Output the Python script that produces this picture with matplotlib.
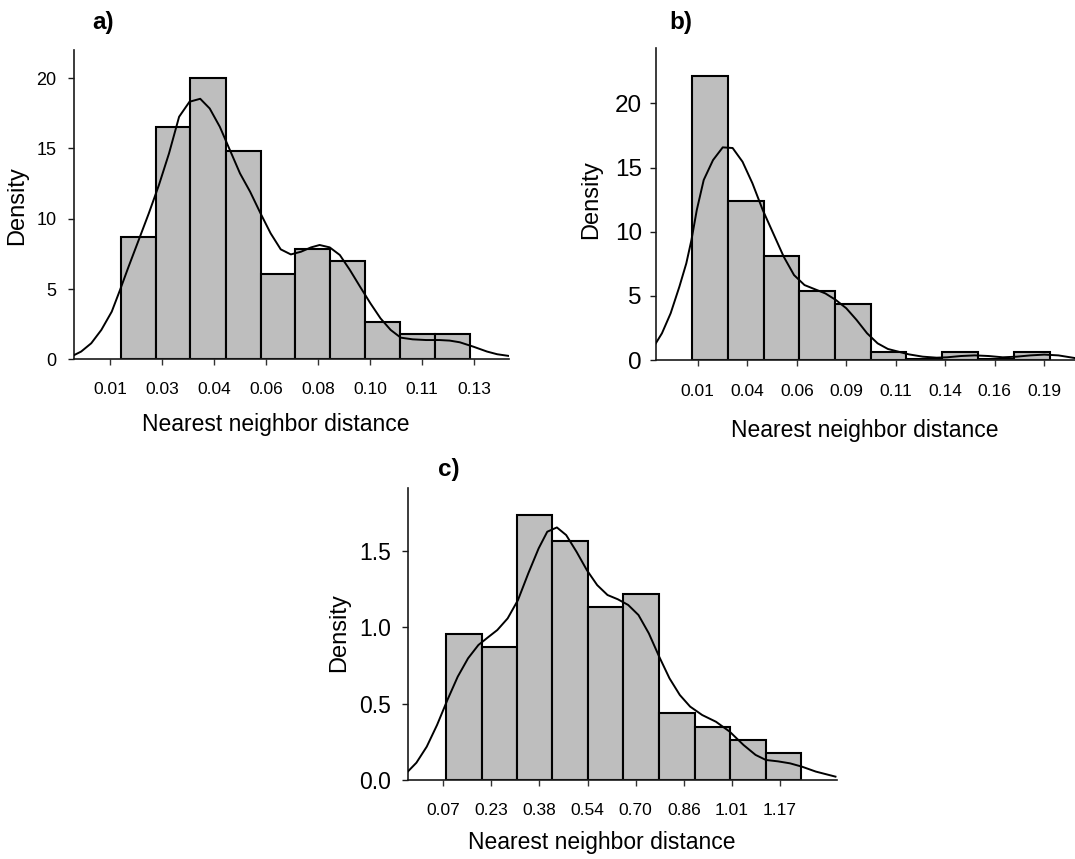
import matplotlib
matplotlib.use('Agg')
import matplotlib.pyplot as plt

plt.rcParams['font.family'] = ['Liberation Sans', 'DejaVu Sans']

# ── data ──────────────────────────────────────────────────────────────────────

# panel a
a_edges = [0.0140, 0.0254, 0.0368, 0.0483, 0.0597, 0.0710, 0.0824, 0.0939, 0.1053, 0.1168, 0.1281]
a_heights = [8.70, 16.52, 20.0, 14.79, 6.09, 7.87, 6.99, 2.65, 1.80, 1.80]
a_ticks = [0.0105, 0.0275, 0.0445, 0.0615, 0.0785, 0.0955, 0.1125, 0.1295]
a_ticklabels = ['0.01', '0.03', '0.04', '0.06', '0.08', '0.10', '0.11', '0.13']
a_yticks = [0, 5, 10, 15, 20]
a_curve_x = [-0.0011, 0.0011, 0.0044, 0.0077, 0.0111, 0.0138, 0.0166, 0.0199, 0.0232, 0.0265,
             0.0298, 0.0331, 0.0365, 0.0400, 0.0431, 0.0464, 0.0497, 0.0530, 0.0563, 0.0597,
             0.0630, 0.0663, 0.0696, 0.0729, 0.0762, 0.0790, 0.0823, 0.0856, 0.0889, 0.0922,
             0.0956, 0.0989, 0.1022, 0.1055, 0.1094, 0.1138, 0.1182, 0.1215, 0.1248, 0.1292,
             0.1337, 0.1370, 0.1408]
a_curve_y = [0.31, 0.55, 1.14, 2.09, 3.39, 4.93, 6.59, 8.48, 10.38, 12.39,
             14.64, 17.25, 18.32, 18.53, 17.84, 16.54, 14.88, 13.22, 11.92, 10.38,
             8.96, 7.82, 7.46, 7.65, 7.96, 8.13, 7.96, 7.42, 6.35, 5.17,
             3.98, 2.91, 2.09, 1.54, 1.42, 1.37, 1.37, 1.33, 1.21, 0.90,
             0.55, 0.36, 0.24]

# panel b
b_edges = [0.0090, 0.0271, 0.0452, 0.0633, 0.0813, 0.0993, 0.1172, 0.1352, 0.1537, 0.1716, 0.1897]
b_heights = [22.1, 12.42, 8.10, 5.40, 4.34, 0.60, 0.08, 0.60, 0.08, 0.60]
b_ticks = [0.012, 0.037, 0.062, 0.087, 0.112, 0.137, 0.162, 0.187]
b_ticklabels = ['0.01', '0.04', '0.06', '0.09', '0.11', '0.14', '0.16', '0.19']
b_yticks = [0, 5, 10, 15, 20]
b_curve_x = [-0.0092, -0.0061, -0.0017, 0.0027, 0.0062, 0.0088, 0.0115, 0.0150, 0.0197, 0.0246,
             0.0296, 0.0346, 0.0396, 0.0448, 0.0501, 0.0554, 0.0606, 0.0659, 0.0712, 0.0764,
             0.0817, 0.0870, 0.0922, 0.0975, 0.1028, 0.1080, 0.1133, 0.1186, 0.1256, 0.1326,
             0.1379, 0.1449, 0.1519, 0.1589, 0.1660, 0.1730, 0.1800, 0.1870, 0.1941, 0.2025]
b_curve_y = [1.30, 2.08, 3.64, 5.71, 7.53, 9.35, 11.69, 14.03, 15.58, 16.57,
             16.52, 15.45, 13.77, 11.69, 9.87, 8.05, 6.62, 5.84, 5.51, 5.19,
             4.68, 4.03, 3.12, 2.08, 1.30, 0.86, 0.65, 0.44, 0.26, 0.18,
             0.21, 0.31, 0.36, 0.31, 0.21, 0.26, 0.36, 0.42, 0.36, 0.15]

# panel c
c_edges = [0.0781, 0.1943, 0.3093, 0.4254, 0.5426, 0.6576, 0.7749, 0.8910, 1.0071, 1.1233, 1.2394]
c_heights = [0.957, 0.868, 1.733, 1.565, 1.129, 1.216, 0.436, 0.349, 0.262, 0.177]
c_ticks = [0.068, 0.2255, 0.383, 0.5405, 0.698, 0.8555, 1.013, 1.1705]
c_ticklabels = ['0.07', '0.23', '0.38', '0.54', '0.70', '0.86', '1.01', '1.17']
c_yticks = [0.0, 0.5, 1.0, 1.5]
c_curve_x = [-0.0481, -0.0199, 0.0139, 0.0477, 0.0815, 0.1154, 0.1492, 0.1830, 0.2168, 0.2450,
             0.2788, 0.3126, 0.3465, 0.3803, 0.4085, 0.4400, 0.4705, 0.5043, 0.5381, 0.5719,
             0.6058, 0.6396, 0.6734, 0.7072, 0.7411, 0.7749, 0.8087, 0.8425, 0.8763, 0.9158,
             0.9609, 1.0060, 1.0511, 1.0906, 1.1244, 1.1638, 1.2033, 1.2427, 1.2878, 1.3521]
c_curve_y = [0.055, 0.113, 0.218, 0.360, 0.523, 0.676, 0.796, 0.883, 0.937, 0.981,
             1.057, 1.177, 1.352, 1.515, 1.624, 1.652, 1.602, 1.493, 1.373, 1.275,
             1.210, 1.182, 1.145, 1.079, 0.959, 0.807, 0.665, 0.556, 0.480, 0.425,
             0.381, 0.316, 0.229, 0.164, 0.131, 0.122, 0.109, 0.087, 0.055, 0.022]

# ── layout (pixel boxes on a 1075 x 859 canvas) ───────────────────────────────

W, H = 1075, 859

PANELS = [
    dict(edges=a_edges, heights=a_heights, ticks=a_ticks, labels=a_ticklabels,
         yticks=a_yticks, cx=a_curve_x, cy=a_curve_y,
         xlim=(-0.0011, 0.1408), ylim=(0, 22.0),
         box=(74.4, 50, 508.8, 359.3), ysize=13, ypad=9, xpad=11.5,
         yfmt='{:g}', tag='a)', tag_xy=(92, 22),
         xlab_xy=(276, 425), ylab_xy=(17, 206)),
    dict(edges=b_edges, heights=b_heights, ticks=b_ticks, labels=b_ticklabels,
         yticks=b_yticks, cx=b_curve_x, cy=b_curve_y,
         xlim=(-0.0092, 0.2025), ylim=(0, 24.29),
         box=(655.8, 48.3, 1075, 360), ysize=17.5, ypad=6, xpad=13,
         yfmt='{:g}', tag='b)', tag_xy=(669, 22),
         xlab_xy=(865, 431), ylab_xy=(591, 200)),
    dict(edges=c_edges, heights=c_heights, ticks=c_ticks, labels=c_ticklabels,
         yticks=c_yticks, cx=c_curve_x, cy=c_curve_y,
         xlim=(-0.0481, 1.3555), ylim=(0, 1.908),
         box=(407.8, 488.3, 836.5, 780), ysize=16.5, ypad=8, xpad=12,
         yfmt='{:.1f}', tag='c)', tag_xy=(438, 469),
         xlab_xy=(602, 843), ylab_xy=(339, 633)),
]

fig = plt.figure(figsize=(W / 100, H / 100), dpi=100)
fig.patch.set_facecolor('white')

for p in PANELS:
    x0, y0, x1, y1 = p['box']
    ax = fig.add_axes([x0 / W, 1 - y1 / H, (x1 - x0) / W, (y1 - y0) / H])
    ax.patch.set_alpha(0)

    widths = [r - l for l, r in zip(p['edges'][:-1], p['edges'][1:])]
    ax.bar(p['edges'][:-1], p['heights'], width=widths, align='edge',
           color='#BEBEBE', edgecolor='black', linewidth=1.5, zorder=2)
    ax.plot(p['cx'], p['cy'], color='black', linewidth=1.4, zorder=3,
            solid_joinstyle='round')

    ax.set_xlim(*p['xlim'])
    ax.set_ylim(*p['ylim'])

    for side in ('top', 'right'):
        ax.spines[side].set_visible(False)
    for side in ('left', 'bottom'):
        ax.spines[side].set_linewidth(1.2)
        ax.spines[side].set_color('#1A1A1A')

    ax.set_xticks(p['ticks'])
    ax.set_xticklabels(p['labels'])
    ax.set_yticks(p['yticks'])
    ax.set_yticklabels([p['yfmt'].format(v) for v in p['yticks']])
    ax.tick_params(axis='x', direction='out', length=4.5, width=1.0,
                   labelsize=12.5, pad=p['xpad'], color='#333333')
    ax.tick_params(axis='y', direction='out', length=4, width=1.0,
                   labelsize=p['ysize'], pad=p['ypad'], color='#1A1A1A')

    fig.text(p['xlab_xy'][0] / W, 1 - p['xlab_xy'][1] / H,
             'Nearest neighbor distance', fontsize=16.5, ha='center', va='center')
    fig.text(p['ylab_xy'][0] / W, 1 - p['ylab_xy'][1] / H,
             'Density', fontsize=17, rotation=90, ha='center', va='center')
    fig.text(p['tag_xy'][0] / W, 1 - p['tag_xy'][1] / H,
             p['tag'], fontsize=17.5, fontweight='bold', ha='left', va='center')

fig.savefig('out.png', dpi=100, facecolor='white')
